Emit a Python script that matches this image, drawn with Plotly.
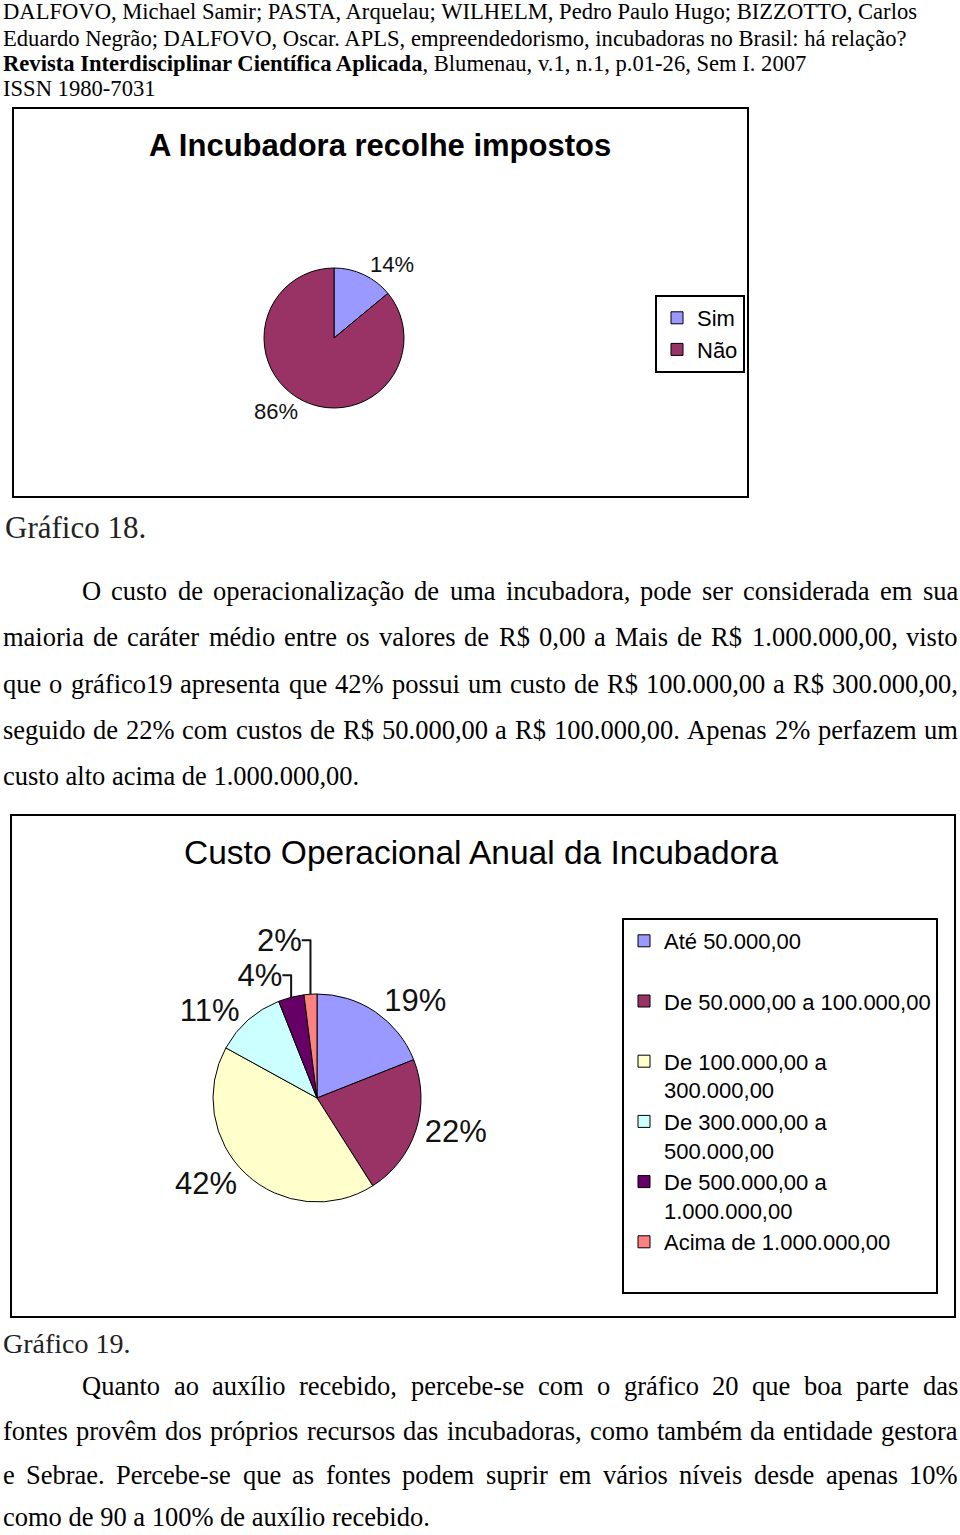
import plotly.graph_objects as go

W, H = 960, 1535


def px(x):
    return x / W


def py(y):
    return 1 - y / H


SERIF = "Liberation Serif, Times New Roman, serif"
SANS = "Liberation Sans, Arial, sans-serif"

# ---------------- data ----------------
header_lines = [
    "DALFOVO, Michael Samir; PASTA, Arquelau; WILHELM, Pedro Paulo Hugo; BIZZOTTO, Carlos",
    "Eduardo Negrão; DALFOVO, Oscar. APLS, empreendedorismo, incubadoras no Brasil: há relação?",
    "<b>Revista Interdisciplinar Científica Aplicada</b>, Blumenau, v.1, n.1, p.01-26, Sem I. 2007",
    "ISSN 1980-7031",
]

g18_title = "<b>A Incubadora recolhe impostos</b>"
g18_labels = ["Sim", "Não"]
g18_values = [14, 86]
g18_colors = ["#9999FF", "#993366"]
g18_caption = "Gráfico 18."

para1_lines = [
    "O custo de operacionalização de uma incubadora, pode ser considerada em sua",
    "maioria de caráter médio entre os valores de R$ 0,00 a Mais de R$ 1.000.000,00, visto",
    "que o gráfico19 apresenta que 42% possui um custo de R$ 100.000,00 a R$ 300.000,00,",
    "seguido de 22% com custos de R$ 50.000,00 a R$ 100.000,00. Apenas 2% perfazem um",
    "custo alto acima de 1.000.000,00.",
]

g19_title = "Custo Operacional Anual da Incubadora"
g19_labels = [
    "Até 50.000,00<br> ",
    "De 50.000,00 a 100.000,00<br> ",
    "De 100.000,00 a<br>300.000,00",
    "De 300.000,00 a<br>500.000,00",
    "De 500.000,00 a<br>1.000.000,00",
    "Acima de 1.000.000,00<br> ",
]
g19_values = [19, 22, 42, 11, 4, 2]
g19_colors = ["#9999FF", "#993366", "#FFFFCC", "#CCFFFF", "#660066", "#FF8080"]
g19_caption = "Gráfico 19."

para2_lines = [
    "Quanto ao auxílio recebido, percebe-se com o gráfico 20 que boa parte das",
    "fontes provêm dos próprios recursos das incubadoras, como também da entidade gestora",
    "e Sebrae. Percebe-se que as fontes podem suprir em vários níveis desde apenas 10%",
    "como de 90 a 100% de auxílio recebido.",
]

# approximate Times/Liberation Serif advance widths (per 1000 em) for justification
_TW = {" ": 250, ",": 250, ".": 250, "%": 833, "$": 500, "-": 333, ":": 278, ";": 278, "?": 444}
for _c in "0123456789":
    _TW[_c] = 500
_TW.update(dict(zip("ABCDEFGHIJKLMNOPQRSTUVWXYZ",
                    [722, 667, 667, 722, 611, 556, 722, 722, 333, 389, 722, 611, 889,
                     722, 722, 556, 722, 667, 556, 611, 722, 722, 944, 722, 722, 611])))
_TW.update(dict(zip("abcdefghijklmnopqrstuvwxyz",
                    [444, 500, 444, 500, 444, 333, 500, 500, 278, 278, 500, 278, 778,
                     500, 500, 500, 500, 333, 389, 278, 500, 500, 722, 500, 500, 444])))
_ACC = {"á": "a", "à": "a", "â": "a", "ã": "a", "é": "e", "ê": "e", "í": "i",
        "ó": "o", "ô": "o", "õ": "o", "ú": "u", "ç": "c"}


def text_width(s, size):
    return sum(_TW.get(_ACC.get(c, c), 500) for c in s) * size / 1000.0


# ---------------- figure ----------------
fig = go.Figure()

fig.add_trace(go.Pie(
    labels=g18_labels, values=g18_values,
    marker=dict(colors=g18_colors, line=dict(color="black", width=1)),
    sort=False, direction="clockwise", rotation=0,
    textposition="outside", texttemplate="%{value}%",
    textfont=dict(size=22, family=SANS, color="#111"),
    domain=dict(x=[px(264), px(404)], y=[py(408), py(268)]),
    legend="legend", hoverinfo="label+percent",
))

fig.add_trace(go.Pie(
    labels=g19_labels, values=g19_values,
    marker=dict(colors=g19_colors, line=dict(color="black", width=1)),
    sort=False, direction="clockwise", rotation=0,
    textposition="outside", texttemplate="%{value}%",
    textfont=dict(size=31, family=SANS, color="#111"),
    domain=dict(x=[px(213), px(421)], y=[py(1202), py(994)]),
    legend="legend2", hoverinfo="label+percent",
))

annotations = []
header_y = [12, 38, 63, 88]
for txt, yy in zip(header_lines, header_y):
    annotations.append(dict(x=px(1), y=py(yy), text=txt, showarrow=False,
                            xanchor="left", yanchor="middle",
                            font=dict(family=SERIF, size=22.6, color="black")))

annotations.append(dict(x=px(380), y=py(145), text=g18_title, showarrow=False,
                        xanchor="center", yanchor="middle",
                        font=dict(family=SANS, size=31, color="black")))
annotations.append(dict(x=px(3), y=py(527), text=g18_caption, showarrow=False,
                        xanchor="left", yanchor="middle",
                        font=dict(family=SERIF, size=31, color="#222")))

PFS = 26.5
RIGHT = 956


def add_paragraph(lines, ys):
    for i, (txt, yy) in enumerate(zip(lines, ys)):
        x0 = 80 if i == 0 else 1
        last = i == len(lines) - 1
        font = dict(family=SERIF, size=PFS, color="black")
        if last:
            annotations.append(dict(x=px(x0), y=py(yy), text=txt, showarrow=False,
                                    xanchor="left", yanchor="middle", font=font))
            continue
        words = txt.split(" ")
        widths = [text_width(w, PFS) for w in words]
        gap = (RIGHT - x0 - sum(widths)) / (len(words) - 1)
        xx = x0
        for w, wd in zip(words, widths):
            annotations.append(dict(x=px(xx), y=py(yy), text=w, showarrow=False,
                                    xanchor="left", yanchor="middle", font=font))
            xx += wd + gap


add_paragraph(para1_lines, [591, 637, 684, 730, 776])

annotations.append(dict(x=px(481), y=py(852), text=g19_title, showarrow=False,
                        xanchor="center", yanchor="middle",
                        font=dict(family=SANS, size=33.5, color="black")))
annotations.append(dict(x=px(1), y=py(1343), text=g19_caption, showarrow=False,
                        xanchor="left", yanchor="middle",
                        font=dict(family=SERIF, size=28, color="#222")))

add_paragraph(para2_lines, [1386, 1431, 1475, 1517])

shapes = [
    dict(type="rect", xref="paper", yref="paper", x0=px(13), x1=px(748), y0=py(497), y1=py(108),
         line=dict(color="black", width=2)),
    dict(type="rect", xref="paper", yref="paper", x0=px(11), x1=px(955), y0=py(1317), y1=py(815),
         line=dict(color="black", width=2)),
]

fig.update_layout(
    width=W, height=H,
    margin=dict(l=0, r=0, t=0, b=0),
    paper_bgcolor="white", plot_bgcolor="white",
    annotations=annotations, shapes=shapes,
    legend=dict(x=px(655), y=py(295), xanchor="left", yanchor="top",
                bordercolor="black", borderwidth=2, bgcolor="white",
                font=dict(family=SANS, size=22, color="black")),
    legend2=dict(x=px(622), y=py(918), xanchor="left", yanchor="top",
                 bordercolor="black", borderwidth=2, bgcolor="white",
                 valign="top",
                 font=dict(family=SANS, size=22, color="black")),
    showlegend=True,
)

fig.write_html("out.html")
